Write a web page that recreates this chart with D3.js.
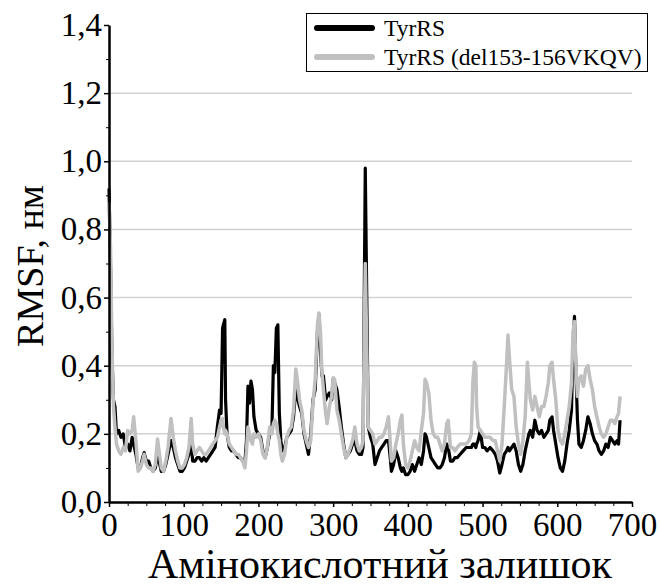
<!DOCTYPE html>
<html>
<head>
<meta charset="utf-8">
<script src="https://cdn.jsdelivr.net/npm/d3@7"></script>
<style>
  body { margin: 0; background: #fff; }
  svg text { font-family: "Liberation Serif", "Times New Roman", serif; fill: #000; }
  .os path, .os line { stroke: #000; }
</style>
</head>
<body>
<div id="okvir"></div>
<script>
// podaci ocitani s grafa (RMSF, nm)
const ostaci = [0,2,4,6,8,10,13,16,19,22,25,28,31,33,36,39,42,45,47,50,53,56,59,62,65,67,70,73,76,79,83,86,89,92,95,98,101,104,107,110,112,115,118,121,124,127,130,133,136,139,142,145,148,150,152,153,155,156,158,161,164,167,170,173,176,179,182,184,186,188,190,192,194,197,200,203,206,209,212,215,218,220,222,224,226,228,230,232,235,238,241,244,247,250,252,255,258,261,264,267,270,273,276,279,281,283,285,287,290,292,295,298,300,302,305,308,311,314,317,320,323,326,329,332,335,338,340,342,343,345,347,350,353,356,359,362,365,368,371,374,376,378,381,384,387,390,392,394,397,400,403,406,409,412,415,418,421,423,425,428,431,434,437,440,443,446,449,452,454,457,460,463,466,470,474,478,482,485,487,489,491,492,494,497,500,503,506,510,514,517,520,523,526,529,532,534,536,539,542,545,548,551,554,557,560,562,564,567,570,573,576,579,582,585,588,590,593,595,598,601,604,607,610,613,616,619,621,623,625,627,629,632,635,638,641,644,647,650,653,656,659,662,665,668,671,674,677,680,682,684]

const tyrRS = [0.92,0.70,0.42,0.30,0.28,0.20,0.21,0.19,0.20,0.16,0.17,0.15,0.19,0.17,0.14,0.10,0.10,0.13,0.145,0.12,0.12,0.10,0.09,0.10,0.14,0.12,0.09,0.09,0.11,0.14,0.18,0.16,0.13,0.11,0.09,0.09,0.10,0.12,0.14,0.17,0.12,0.12,0.13,0.13,0.12,0.13,0.12,0.13,0.14,0.15,0.16,0.22,0.27,0.26,0.51,0.52,0.535,0.30,0.20,0.16,0.15,0.15,0.14,0.13,0.13,0.12,0.12,0.18,0.34,0.29,0.355,0.33,0.25,0.21,0.20,0.19,0.15,0.13,0.16,0.20,0.21,0.40,0.38,0.51,0.52,0.26,0.18,0.15,0.16,0.19,0.20,0.21,0.25,0.33,0.31,0.28,0.26,0.20,0.17,0.14,0.20,0.30,0.33,0.50,0.55,0.45,0.37,0.37,0.30,0.31,0.32,0.30,0.36,0.35,0.33,0.28,0.22,0.17,0.13,0.14,0.15,0.17,0.18,0.15,0.14,0.14,0.16,0.70,0.98,0.60,0.22,0.19,0.17,0.11,0.13,0.15,0.16,0.17,0.18,0.18,0.14,0.09,0.11,0.15,0.13,0.10,0.09,0.10,0.08,0.08,0.09,0.11,0.09,0.11,0.13,0.11,0.15,0.20,0.19,0.16,0.13,0.12,0.11,0.10,0.10,0.11,0.13,0.17,0.16,0.12,0.12,0.13,0.13,0.14,0.15,0.16,0.16,0.16,0.17,0.17,0.16,0.17,0.18,0.21,0.16,0.16,0.15,0.16,0.15,0.14,0.12,0.085,0.11,0.14,0.15,0.16,0.15,0.16,0.17,0.15,0.11,0.09,0.11,0.15,0.18,0.20,0.21,0.19,0.24,0.21,0.20,0.21,0.19,0.20,0.21,0.24,0.25,0.21,0.17,0.13,0.10,0.09,0.12,0.17,0.21,0.27,0.45,0.545,0.38,0.24,0.17,0.16,0.18,0.21,0.25,0.23,0.20,0.18,0.17,0.15,0.14,0.15,0.17,0.16,0.19,0.18,0.17,0.18,0.17,0.24]

const tyrRSDel = [0.88,0.75,0.45,0.28,0.22,0.17,0.15,0.14,0.16,0.15,0.21,0.20,0.21,0.25,0.18,0.09,0.10,0.12,0.14,0.11,0.10,0.10,0.09,0.11,0.185,0.15,0.10,0.09,0.12,0.16,0.245,0.19,0.15,0.12,0.10,0.10,0.11,0.13,0.16,0.245,0.17,0.14,0.15,0.16,0.15,0.14,0.14,0.15,0.16,0.17,0.18,0.19,0.22,0.24,0.245,0.22,0.20,0.21,0.20,0.17,0.16,0.15,0.14,0.14,0.13,0.12,0.10,0.15,0.22,0.20,0.18,0.17,0.20,0.19,0.20,0.18,0.14,0.13,0.16,0.22,0.20,0.23,0.24,0.23,0.20,0.18,0.14,0.12,0.14,0.19,0.21,0.22,0.27,0.39,0.36,0.30,0.27,0.21,0.18,0.16,0.18,0.29,0.36,0.52,0.555,0.50,0.38,0.33,0.26,0.23,0.28,0.31,0.365,0.36,0.27,0.24,0.20,0.16,0.13,0.14,0.16,0.18,0.22,0.17,0.15,0.16,0.18,0.55,0.70,0.45,0.22,0.21,0.20,0.17,0.18,0.19,0.19,0.20,0.22,0.25,0.19,0.12,0.13,0.17,0.20,0.24,0.255,0.17,0.11,0.10,0.12,0.15,0.18,0.16,0.15,0.21,0.26,0.36,0.35,0.32,0.24,0.20,0.19,0.19,0.17,0.15,0.17,0.23,0.24,0.16,0.16,0.15,0.16,0.17,0.17,0.17,0.18,0.20,0.35,0.41,0.40,0.28,0.22,0.21,0.20,0.19,0.19,0.19,0.18,0.18,0.15,0.12,0.17,0.28,0.40,0.49,0.42,0.33,0.31,0.22,0.17,0.14,0.18,0.25,0.41,0.35,0.30,0.27,0.31,0.28,0.25,0.28,0.28,0.31,0.35,0.40,0.41,0.36,0.30,0.21,0.18,0.17,0.20,0.24,0.28,0.35,0.50,0.53,0.40,0.31,0.36,0.37,0.34,0.39,0.40,0.36,0.33,0.28,0.25,0.22,0.20,0.19,0.20,0.22,0.24,0.24,0.23,0.25,0.26,0.31]

const yOznake = [0, 0.2, 0.4, 0.6, 0.8, 1.0, 1.2, 1.4]
const xOznake = [0, 100, 200, 300, 400, 500, 600, 700]
const serije = [
  { naziv: "TyrRS", vrijednosti: tyrRS, boja: "#000000", debljina: 3.2 },
  { naziv: "TyrRS (del153-156VKQV)", vrijednosti: tyrRSDel, boja: "#c0c0c0", debljina: 3.5 },
]

const FONT = '"Liberation Serif", "Times New Roman", serif'

// dimenzije
let dimenzije = {
  sirina: 660,
  visina: 587,
  margine: { top: 25, right: 28, bottom: 85, left: 109 },
}
dimenzije.grSirina = 632 - dimenzije.margine.left
dimenzije.grVisina = 502 - dimenzije.margine.top

const okvir = d3.select("#okvir")
  .append("svg")
    .attr("width", dimenzije.sirina)
    .attr("height", dimenzije.visina)
    .attr("font-family", FONT)

const granice = okvir.append("g")
    .attr("transform", `translate(${dimenzije.margine.left},${dimenzije.margine.top})`)

// razmjeri
const xSkala = d3.scaleLinear()
  .domain([0, 700])
  .range([0, dimenzije.grSirina])

const ySkala = d3.scaleLinear()
  .domain([0, 1.4])
  .range([dimenzije.grVisina, 0])

const zarez = d => d3.format(".1f")(d).replace(".", ",")

// mreza
granice.append("g")
  .selectAll("line")
  .data(yOznake.filter(d => d > 0 && d < 1.4))
  .join("line")
    .attr("x1", 0)
    .attr("x2", dimenzije.grSirina)
    .attr("y1", d => ySkala(d))
    .attr("y2", d => ySkala(d))
    .attr("stroke", "#d2d2d2")
    .attr("stroke-width", 1.5)

// linije
const linijaGenerator = vrijednosti => d3.line()
  .x((d, i) => xSkala(ostaci[i]))
  .y(d => ySkala(d))(vrijednosti)

granice.append("g")
  .selectAll("path")
  .data(serije)
  .join("path")
    .attr("d", d => linijaGenerator(d.vrijednosti))
    .attr("fill", "none")
    .attr("stroke", d => d.boja)
    .attr("stroke-width", d => d.debljina)
    .attr("stroke-linejoin", "round")

// osi - sporedne crtice
granice.append("g")
    .attr("class", "os")
    .attr("transform", `translate(0,${dimenzije.grVisina})`)
    .call(d3.axisBottom(xSkala).tickValues(d3.range(25, 700, 25).filter(d => d % 100)).tickSize(4).tickFormat(""))
    .call(g => g.select(".domain").remove())

granice.append("g")
    .attr("class", "os")
    .call(d3.axisLeft(ySkala).tickValues(d3.range(1, 14, 2).map(d => d / 10)).tickSize(3).tickFormat(""))
    .call(g => g.select(".domain").remove())

const xOs = granice.append("g")
    .attr("class", "os")
    .attr("transform", `translate(0,${dimenzije.grVisina})`)
    .call(d3.axisBottom(xSkala).tickValues(xOznake).tickSize(5).tickSizeOuter(0).tickPadding(6))
xOs.attr("font-family", FONT)
xOs.select(".domain").attr("stroke-width", 2.5)
xOs.selectAll(".tick line").attr("stroke-width", 1.5)
xOs.selectAll("text").style("font-size", "33px")

const yOs = granice.append("g")
    .attr("class", "os")
    .call(d3.axisLeft(ySkala).tickValues(yOznake).tickSize(5).tickSizeOuter(0).tickPadding(2).tickFormat(zarez))
yOs.attr("font-family", FONT)
yOs.select(".domain").attr("stroke-width", 2.5)
yOs.selectAll(".tick line").attr("stroke-width", 1.5)
yOs.selectAll("text").style("font-size", "33px")

// naslovi osi
okvir.append("text")
    .attr("x", 380)
    .attr("y", 578)
    .attr("text-anchor", "middle")
    .style("font-size", "42px")
    .text("Амінокислотний залишок")

okvir.append("text")
    .attr("transform", "translate(43,266) rotate(-90)")
    .attr("text-anchor", "middle")
    .style("font-size", "38px")
    .text("RMSF, нм")

// legenda
const legenda = okvir.append("g")
legenda.append("rect")
    .attr("x", 306.5)
    .attr("y", 13.5)
    .attr("width", 341)
    .attr("height", 58)
    .attr("fill", "#fff")
    .attr("stroke", "#000")
    .attr("stroke-width", 1)

const stavke = legenda.selectAll(".stavka")
  .data(serije)
  .join("g")
    .attr("class", "stavka")
    .attr("transform", (d, i) => `translate(0,${28 + i * 29})`)

stavke.append("line")
    .attr("x1", 317)
    .attr("x2", 372)
    .attr("stroke", d => d.boja)
    .attr("stroke-width", 6)
    .attr("stroke-linecap", "round")

stavke.append("text")
    .attr("x", 384)
    .attr("y", 8)
    .style("font-size", "23.5px")
    .text(d => d.naziv)
</script>
</body>
</html>
